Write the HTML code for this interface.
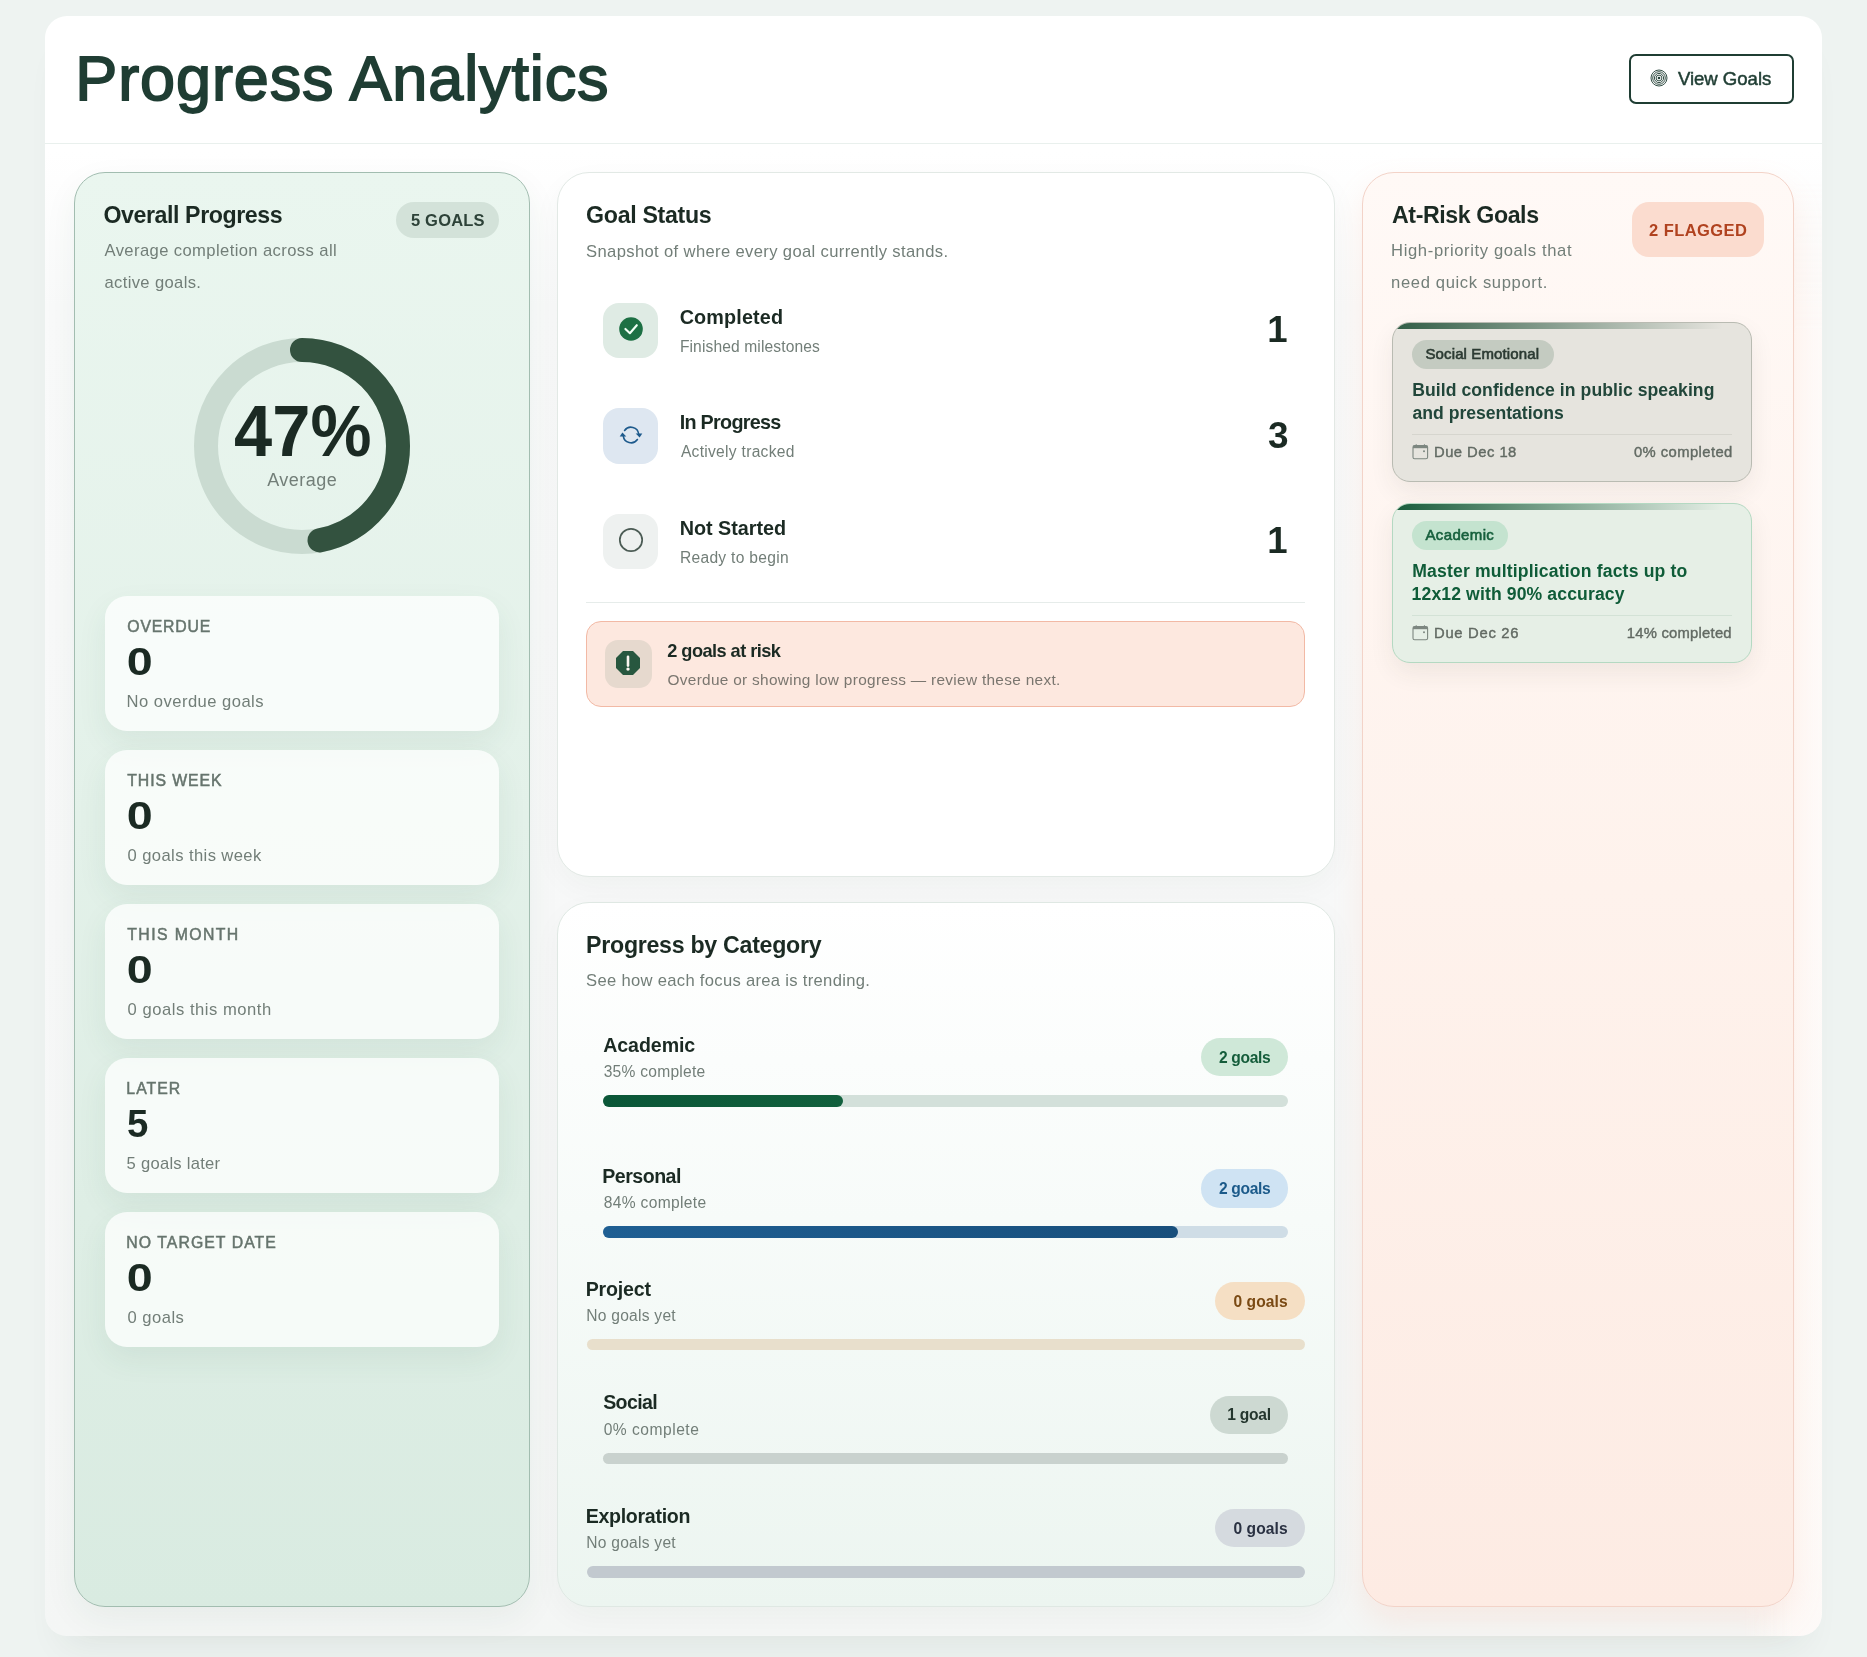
<!DOCTYPE html>
<html lang="en"><head><meta charset="utf-8"><title>Progress Analytics</title>
<style>
html,body{margin:0;padding:0}
body{width:1867px;height:1657px;overflow:hidden;position:relative;background:#eef3f1;font-family:'Liberation Sans',sans-serif;-webkit-font-smoothing:antialiased}
div{box-sizing:border-box}
</style></head><body>
<div id="app" style="position:absolute;left:0;top:0;width:1867px;height:1657px;will-change:transform;">
<div style="position:absolute;left:45px;top:16px;width:1777px;height:1620px;box-sizing:border-box;background:linear-gradient(180deg,#ffffff 0px,#ffffff 135px,#f9fafa 290px,#f7f8f8 900px,#f4f6f5 1620px);border-radius:22px;box-shadow:0 26px 36px -18px rgba(25,60,45,.075);"></div>
<div style="position:absolute;left:1740px;top:176px;width:82px;height:1460px;box-sizing:border-box;background:linear-gradient(90deg,rgba(254,250,248,0) 0px,rgba(254,250,248,.9) 56px);-webkit-mask-image:linear-gradient(180deg,transparent 0px,#000 160px);mask-image:linear-gradient(180deg,transparent 0px,#000 160px);border-bottom-right-radius:22px;"></div>
<div style="position:absolute;left:45px;top:143px;width:1777px;height:1px;box-sizing:border-box;background:#e9f0ed;"></div>
<div style="position:absolute;left:75.30px;top:43px;font-size:63px;line-height:70px;white-space:pre;color:#1f3d33;-webkit-text-stroke:1.76px #1f3d33;letter-spacing:0.888px;">Progress Analytics</div>
<div style="position:absolute;left:1629px;top:54px;width:165px;height:50px;box-sizing:border-box;border:2px solid #1f3d33;border-radius:7px;background:#fff;"></div>
<svg style="position:absolute;left:1649px;top:67.5px" width="20" height="20" viewBox="-10 -10 20 20" fill="none" stroke="#1f3d33" stroke-width="0.9"><circle r="8.0"/><circle r="6.3"/><circle r="4.6"/><circle r="2.9"/><circle r="1.3" fill="#1f3d33" stroke="none"/></svg>
<div style="position:absolute;left:1677.90px;top:68px;font-size:18.6px;line-height:21px;white-space:pre;color:#1f3d33;-webkit-text-stroke:0.5px #1f3d33;letter-spacing:-0.033px;">View Goals</div>
<div style="position:absolute;left:74px;top:172px;width:456px;height:1435px;box-sizing:border-box;background:linear-gradient(180deg,#eaf6ef 0%,#e3f1e9 45%,#d9ebe1 100%);border:1px solid #a2bdb0;border-radius:31px;box-shadow:0 12px 34px rgba(30,80,55,.06);"></div>
<div style="position:absolute;left:103.50px;top:202px;font-size:23.2px;line-height:26px;white-space:pre;color:#1b2a23;font-weight:700;letter-spacing:-0.433px;">Overall Progress</div>
<div style="position:absolute;left:396px;top:202px;width:103px;height:36px;box-sizing:border-box;background:#d3e2d9;border-radius:18px;"></div>
<div style="position:absolute;left:410.90px;top:211px;font-size:16.5px;line-height:18px;white-space:pre;color:#2d4238;font-weight:700;letter-spacing:0.217px;">5 GOALS</div>
<div style="position:absolute;left:104.50px;top:241px;font-size:16.6px;line-height:19px;white-space:pre;color:#727e78;letter-spacing:0.396px;">Average completion across all</div>
<div style="position:absolute;left:104.50px;top:273px;font-size:16.6px;line-height:19px;white-space:pre;color:#727e78;letter-spacing:0.350px;">active goals.</div>
<svg style="position:absolute;left:182.3px;top:326px" width="240" height="240" viewBox="-120 -120 240 240" fill="none">
<circle r="96" stroke="#cadbd1" stroke-width="24"/>
<circle r="96" stroke="#33523f" stroke-width="24" stroke-linecap="round" stroke-dasharray="283.5 603.2" transform="rotate(-90)"/>
</svg>
<div style="position:absolute;left:234.00px;top:390px;font-size:73px;line-height:81px;white-space:pre;color:#1b2a23;font-weight:700;transform:scaleX(0.940);transform-origin:1.0px 50%;">47%</div>
<div style="position:absolute;left:267.20px;top:470px;font-size:18px;line-height:20px;white-space:pre;color:#727e78;letter-spacing:0.483px;">Average</div>
<div style="position:absolute;left:105px;top:596px;width:394px;height:135px;box-sizing:border-box;background:rgba(255,255,255,.74);border-radius:22px;box-shadow:0 12px 30px rgba(40,100,70,.075);"></div>
<div style="position:absolute;left:127.30px;top:618px;font-size:15.8px;line-height:17px;white-space:pre;color:#66746d;-webkit-text-stroke:0.5px #66746d;letter-spacing:0.817px;">OVERDUE</div>
<div style="position:absolute;left:127.20px;top:640px;font-size:38.2px;line-height:43px;white-space:pre;color:#1b2a23;font-weight:700;transform:scaleX(1.221);transform-origin:1.0px 50%;">0</div>
<div style="position:absolute;left:126.60px;top:692px;font-size:16.6px;line-height:19px;white-space:pre;color:#727e78;letter-spacing:0.460px;">No overdue goals</div>
<div style="position:absolute;left:105px;top:750px;width:394px;height:135px;box-sizing:border-box;background:rgba(255,255,255,.74);border-radius:22px;box-shadow:0 12px 30px rgba(40,100,70,.075);"></div>
<div style="position:absolute;left:127.30px;top:772px;font-size:15.8px;line-height:17px;white-space:pre;color:#66746d;-webkit-text-stroke:0.5px #66746d;letter-spacing:0.912px;">THIS WEEK</div>
<div style="position:absolute;left:127.20px;top:794px;font-size:38.2px;line-height:43px;white-space:pre;color:#1b2a23;font-weight:700;transform:scaleX(1.221);transform-origin:1.0px 50%;">0</div>
<div style="position:absolute;left:127.60px;top:846px;font-size:16.6px;line-height:19px;white-space:pre;color:#727e78;letter-spacing:0.400px;">0 goals this week</div>
<div style="position:absolute;left:105px;top:904px;width:394px;height:135px;box-sizing:border-box;background:rgba(255,255,255,.74);border-radius:22px;box-shadow:0 12px 30px rgba(40,100,70,.075);"></div>
<div style="position:absolute;left:127.30px;top:926px;font-size:15.8px;line-height:17px;white-space:pre;color:#66746d;-webkit-text-stroke:0.5px #66746d;letter-spacing:1.400px;">THIS MONTH</div>
<div style="position:absolute;left:127.20px;top:948px;font-size:38.2px;line-height:43px;white-space:pre;color:#1b2a23;font-weight:700;transform:scaleX(1.221);transform-origin:1.0px 50%;">0</div>
<div style="position:absolute;left:127.60px;top:1000px;font-size:16.6px;line-height:19px;white-space:pre;color:#727e78;letter-spacing:0.524px;">0 goals this month</div>
<div style="position:absolute;left:105px;top:1058px;width:394px;height:135px;box-sizing:border-box;background:rgba(255,255,255,.74);border-radius:22px;box-shadow:0 12px 30px rgba(40,100,70,.075);"></div>
<div style="position:absolute;left:126.30px;top:1080px;font-size:15.8px;line-height:17px;white-space:pre;color:#66746d;-webkit-text-stroke:0.5px #66746d;letter-spacing:1.050px;">LATER</div>
<div style="position:absolute;left:127.20px;top:1102px;font-size:38.2px;line-height:43px;white-space:pre;color:#1b2a23;font-weight:700;transform:scaleX(1.005);transform-origin:1.0px 50%;">5</div>
<div style="position:absolute;left:126.60px;top:1154px;font-size:16.6px;line-height:19px;white-space:pre;color:#727e78;letter-spacing:0.258px;">5 goals later</div>
<div style="position:absolute;left:105px;top:1212px;width:394px;height:135px;box-sizing:border-box;background:rgba(255,255,255,.74);border-radius:22px;box-shadow:0 12px 30px rgba(40,100,70,.075);"></div>
<div style="position:absolute;left:126.30px;top:1234px;font-size:15.8px;line-height:17px;white-space:pre;color:#66746d;-webkit-text-stroke:0.5px #66746d;letter-spacing:1.062px;">NO TARGET DATE</div>
<div style="position:absolute;left:127.20px;top:1256px;font-size:38.2px;line-height:43px;white-space:pre;color:#1b2a23;font-weight:700;transform:scaleX(1.221);transform-origin:1.0px 50%;">0</div>
<div style="position:absolute;left:127.60px;top:1308px;font-size:16.6px;line-height:19px;white-space:pre;color:#727e78;letter-spacing:0.467px;">0 goals</div>
<div style="position:absolute;left:557px;top:172px;width:778px;height:705px;box-sizing:border-box;background:#ffffff;border:1px solid #e2e9e5;border-radius:32px;box-shadow:0 10px 30px rgba(30,50,40,.035);"></div>
<div style="position:absolute;left:586.10px;top:202px;font-size:23.2px;line-height:26px;white-space:pre;color:#1b2a23;font-weight:700;letter-spacing:-0.330px;">Goal Status</div>
<div style="position:absolute;left:586.10px;top:242px;font-size:16.6px;line-height:19px;white-space:pre;color:#727e78;letter-spacing:0.356px;">Snapshot of where every goal currently stands.</div>
<div style="position:absolute;left:603px;top:303px;width:55px;height:55px;box-sizing:border-box;background:#dfebe4;border-radius:16px;"></div>
<div style="position:absolute;left:679.70px;top:306px;font-size:19.8px;line-height:22px;white-space:pre;color:#1b2a23;font-weight:700;letter-spacing:0.137px;">Completed</div>
<div style="position:absolute;left:679.90px;top:338px;font-size:15.6px;line-height:17px;white-space:pre;color:#727e78;letter-spacing:0.122px;">Finished milestones</div>
<div style="position:absolute;left:1267.20px;top:309px;font-size:36.6px;line-height:41px;white-space:pre;color:#1b2a23;font-weight:700;">1</div>
<div style="position:absolute;left:603px;top:408px;width:55px;height:56px;box-sizing:border-box;background:#dee7f1;border-radius:16px;"></div>
<div style="position:absolute;left:679.70px;top:411px;font-size:19.8px;line-height:22px;white-space:pre;color:#1b2a23;font-weight:700;letter-spacing:-0.720px;">In Progress</div>
<div style="position:absolute;left:680.90px;top:443px;font-size:15.6px;line-height:17px;white-space:pre;color:#727e78;letter-spacing:0.287px;">Actively tracked</div>
<div style="position:absolute;left:1268.00px;top:415px;font-size:36.6px;line-height:41px;white-space:pre;color:#1b2a23;font-weight:700;transform:scaleX(1.011);transform-origin:1.0px 50%;">3</div>
<div style="position:absolute;left:603px;top:514px;width:55px;height:55px;box-sizing:border-box;background:#eef1f0;border-radius:16px;"></div>
<div style="position:absolute;left:679.70px;top:517px;font-size:19.8px;line-height:22px;white-space:pre;color:#1b2a23;font-weight:700;letter-spacing:-0.010px;">Not Started</div>
<div style="position:absolute;left:679.90px;top:549px;font-size:15.6px;line-height:17px;white-space:pre;color:#727e78;letter-spacing:0.300px;">Ready to begin</div>
<div style="position:absolute;left:1267.20px;top:520px;font-size:36.6px;line-height:41px;white-space:pre;color:#1b2a23;font-weight:700;">1</div>
<svg style="position:absolute;left:618.85px;top:316.95px" width="24" height="24" viewBox="-12 -12 24 24"><circle r="11.8" fill="#1d7044"/><path d="M-5.6,-0.1 L-1.1,4.2 L5.8,-3.8" fill="none" stroke="#f2fff6" stroke-width="2.1" stroke-linecap="round" stroke-linejoin="round"/></svg>
<svg style="position:absolute;left:616.6px;top:420.6px" width="28" height="28" viewBox="-14 -14 28 28" fill="none" stroke="#1d5a8c" stroke-width="1.6" stroke-linecap="round">
<g><path d="M-6.4,-4.5 A7.8,7.8 0 0 1 7.7,-0.8"/><path d="M4.7,-1.4 L11.3,-1.4 L8.6,2.4 Z" fill="#1d5a8c" stroke="none"/></g>
<g transform="rotate(180)"><path d="M-6.4,-4.5 A7.8,7.8 0 0 1 7.7,-0.8"/><path d="M4.7,-1.4 L11.3,-1.4 L8.6,2.4 Z" fill="#1d5a8c" stroke="none"/></g></svg>
<svg style="position:absolute;left:616.85px;top:525.8px" width="28" height="28" viewBox="-14 -14 28 28"><circle r="11.2" fill="none" stroke="#4b5b54" stroke-width="1.7"/></svg>
<div style="position:absolute;left:586px;top:602px;width:719px;height:1px;box-sizing:border-box;background:#e6ecea;"></div>
<div style="position:absolute;left:586px;top:621px;width:719px;height:86px;box-sizing:border-box;background:#fde8df;border:1px solid #f2b9a5;border-radius:15px;"></div>
<div style="position:absolute;left:605px;top:640px;width:47px;height:48px;box-sizing:border-box;background:#e6d9ce;border-radius:13px;"></div>
<svg style="position:absolute;left:614.2px;top:648.9px" width="28" height="28" viewBox="-14 -14 28 28"><path d="M-5,-12 L5,-12 L12,-5 L12,5 L5,12 L-5,12 L-12,5 L-12,-5 Z" fill="#27573f"/><path d="M0,-6.2 L0,2.6" stroke="#fbf6f0" stroke-width="2.6" stroke-linecap="round"/><circle cx="0" cy="6.1" r="1.7" fill="#fbf6f0"/></svg>
<div style="position:absolute;left:667.30px;top:641px;font-size:18.2px;line-height:20px;white-space:pre;color:#1b2a23;font-weight:700;letter-spacing:-0.550px;">2 goals at risk</div>
<div style="position:absolute;left:667.50px;top:671px;font-size:15.4px;line-height:17px;white-space:pre;color:#7a766f;letter-spacing:0.304px;">Overdue or showing low progress — review these next.</div>
<div style="position:absolute;left:557px;top:902px;width:778px;height:705px;box-sizing:border-box;background:linear-gradient(180deg,#ffffff 0%,#f7fbf9 45%,#ecf5f0 100%);border:1px solid #dfe8e3;border-radius:32px;box-shadow:0 10px 30px rgba(30,50,40,.035);"></div>
<div style="position:absolute;left:586.10px;top:932px;font-size:23.2px;line-height:26px;white-space:pre;color:#1b2a23;font-weight:700;letter-spacing:-0.289px;">Progress by Category</div>
<div style="position:absolute;left:586.10px;top:971px;font-size:16.6px;line-height:19px;white-space:pre;color:#727e78;letter-spacing:0.306px;">See how each focus area is trending.</div>
<div style="position:absolute;left:603.20px;top:1034px;font-size:19.6px;line-height:22px;white-space:pre;color:#1b2a23;font-weight:700;letter-spacing:-0.071px;">Academic</div>
<div style="position:absolute;left:603.70px;top:1063px;font-size:15.6px;line-height:17px;white-space:pre;color:#727e78;letter-spacing:0.245px;">35% complete</div>
<div style="position:absolute;left:1201px;top:1038px;width:87px;height:38px;box-sizing:border-box;background:#cfe8d8;border-radius:19.1px;"></div>
<div style="position:absolute;left:1218.90px;top:1049px;font-size:15.6px;line-height:17px;white-space:pre;color:#145c3a;font-weight:700;letter-spacing:-0.317px;">2 goals</div>
<div style="position:absolute;left:603px;top:1095px;width:685px;height:12px;box-sizing:border-box;background:#d3e0da;border-radius:6px;"></div>
<div style="position:absolute;left:603px;top:1095px;width:240px;height:12px;box-sizing:border-box;background:linear-gradient(90deg,#0b5738,#12603d);border-radius:6px;"></div>
<div style="position:absolute;left:602.20px;top:1165px;font-size:19.6px;line-height:22px;white-space:pre;color:#1b2a23;font-weight:700;letter-spacing:-0.500px;">Personal</div>
<div style="position:absolute;left:603.70px;top:1194px;font-size:15.6px;line-height:17px;white-space:pre;color:#727e78;letter-spacing:0.336px;">84% complete</div>
<div style="position:absolute;left:1201px;top:1169px;width:87px;height:39px;box-sizing:border-box;background:#cfe3f3;border-radius:19.1px;"></div>
<div style="position:absolute;left:1218.90px;top:1180px;font-size:15.6px;line-height:17px;white-space:pre;color:#1b5a8a;font-weight:700;letter-spacing:-0.317px;">2 goals</div>
<div style="position:absolute;left:603px;top:1226px;width:685px;height:12px;box-sizing:border-box;background:#cfdde6;border-radius:6px;"></div>
<div style="position:absolute;left:603px;top:1226px;width:575px;height:12px;box-sizing:border-box;background:linear-gradient(90deg,#1f5f93,#184f7c);border-radius:6px;"></div>
<div style="position:absolute;left:585.70px;top:1278px;font-size:19.6px;line-height:22px;white-space:pre;color:#1b2a23;font-weight:700;letter-spacing:-0.200px;">Project</div>
<div style="position:absolute;left:586.20px;top:1307px;font-size:15.6px;line-height:17px;white-space:pre;color:#727e78;letter-spacing:0.255px;">No goals yet</div>
<div style="position:absolute;left:1215px;top:1282px;width:90px;height:38px;box-sizing:border-box;background:#f5dfc4;border-radius:19.1px;"></div>
<div style="position:absolute;left:1233.40px;top:1293px;font-size:15.6px;line-height:17px;white-space:pre;color:#7a4a14;font-weight:700;letter-spacing:0.100px;">0 goals</div>
<div style="position:absolute;left:587px;top:1339px;width:718px;height:11px;box-sizing:border-box;background:#e8dfcc;border-radius:6px;"></div>
<div style="position:absolute;left:603.20px;top:1391px;font-size:19.6px;line-height:22px;white-space:pre;color:#1b2a23;font-weight:700;letter-spacing:-0.640px;">Social</div>
<div style="position:absolute;left:603.70px;top:1421px;font-size:15.6px;line-height:17px;white-space:pre;color:#727e78;letter-spacing:0.500px;">0% complete</div>
<div style="position:absolute;left:1210px;top:1396px;width:78px;height:38px;box-sizing:border-box;background:#cdd9d2;border-radius:19.1px;"></div>
<div style="position:absolute;left:1227.20px;top:1406px;font-size:15.6px;line-height:17px;white-space:pre;color:#24362e;font-weight:700;letter-spacing:-0.240px;">1 goal</div>
<div style="position:absolute;left:603px;top:1453px;width:685px;height:11px;box-sizing:border-box;background:#c9d2ce;border-radius:6px;"></div>
<div style="position:absolute;left:585.70px;top:1505px;font-size:19.6px;line-height:22px;white-space:pre;color:#1b2a23;font-weight:700;letter-spacing:-0.300px;">Exploration</div>
<div style="position:absolute;left:586.20px;top:1534px;font-size:15.6px;line-height:17px;white-space:pre;color:#727e78;letter-spacing:0.255px;">No goals yet</div>
<div style="position:absolute;left:1215px;top:1509px;width:90px;height:38px;box-sizing:border-box;background:#d5dadf;border-radius:19.1px;"></div>
<div style="position:absolute;left:1233.40px;top:1520px;font-size:15.6px;line-height:17px;white-space:pre;color:#2a3142;font-weight:700;letter-spacing:0.100px;">0 goals</div>
<div style="position:absolute;left:587px;top:1566px;width:718px;height:12px;box-sizing:border-box;background:#c2c9cf;border-radius:6px;"></div>
<div style="position:absolute;left:1362px;top:172px;width:432px;height:1435px;box-sizing:border-box;background:linear-gradient(180deg,#fff9f6 0%,#fef2ec 50%,#fdebe3 100%);border:1px solid #f3d3c8;border-radius:32px;box-shadow:0 14px 30px rgba(255,170,135,.16);"></div>
<div style="position:absolute;left:1392.00px;top:202px;font-size:23.2px;line-height:26px;white-space:pre;color:#1b2a23;font-weight:700;letter-spacing:-0.417px;">At-Risk Goals</div>
<div style="position:absolute;left:1391.10px;top:241px;font-size:16.6px;line-height:19px;white-space:pre;color:#727e78;letter-spacing:0.626px;">High-priority goals that</div>
<div style="position:absolute;left:1391.10px;top:273px;font-size:16.6px;line-height:19px;white-space:pre;color:#727e78;letter-spacing:0.633px;">need quick support.</div>
<div style="position:absolute;left:1632px;top:202px;width:132px;height:55px;box-sizing:border-box;background:#fbdccf;border-radius:17px;"></div>
<div style="position:absolute;left:1649.00px;top:221px;font-size:16.5px;line-height:18px;white-space:pre;color:#b0421f;font-weight:700;letter-spacing:0.438px;">2 FLAGGED</div>
<div style="position:absolute;left:1392px;top:322px;width:359.5px;height:160.2px;background:#e6e4de;border:1px solid #b9bbb2;border-radius:18px;overflow:hidden;box-shadow:0 10px 24px rgba(60,50,40,.075);"><div style="position:absolute;left:-1px;top:-1px;width:360px;height:6.5px;background:linear-gradient(90deg,#2f5c45 0%,#2f5c4500 92%);"></div></div>
<div style="position:absolute;left:1412px;top:340px;width:142px;height:29px;box-sizing:border-box;background:#c4cbc1;border-radius:15px;"></div>
<div style="position:absolute;left:1425.50px;top:345px;font-size:15px;line-height:17px;white-space:pre;color:#2b3a32;-webkit-text-stroke:0.6px #2b3a32;letter-spacing:0.120px;">Social Emotional</div>
<div style="position:absolute;left:1412.20px;top:380px;font-size:17.6px;line-height:20px;white-space:pre;color:#21463a;font-weight:700;letter-spacing:0.062px;">Build confidence in public speaking</div>
<div style="position:absolute;left:1412.60px;top:403px;font-size:17.6px;line-height:20px;white-space:pre;color:#21463a;font-weight:700;letter-spacing:-0.025px;">and presentations</div>
<div style="position:absolute;left:1412px;top:434px;width:320px;height:1px;box-sizing:border-box;background:#d6d5ce;"></div>
<svg style="position:absolute;left:1411.6px;top:443.9px" width="17" height="16" viewBox="0 0 17 16" fill="none" stroke="#7d8780" stroke-width="1.1"><rect x="1" y="1.6" width="14.6" height="13.2" rx="1.6"/><path d="M1,3 H15.6" stroke-width="2.4"/><path d="M4.2,0.2 V2 M12.4,0.2 V2" stroke-width="1"/><circle cx="12" cy="7.2" r="1" fill="#7d8780" stroke="none"/></svg>
<div style="position:absolute;left:1434.00px;top:444px;font-size:14.8px;line-height:16px;white-space:pre;color:#626a63;-webkit-text-stroke:0.4px #626a63;letter-spacing:0.467px;">Due Dec 18</div>
<div style="position:absolute;left:1633.90px;top:444px;font-size:14.8px;line-height:16px;white-space:pre;color:#626a63;-webkit-text-stroke:0.4px #626a63;letter-spacing:0.427px;">0% completed</div>
<div style="position:absolute;left:1392px;top:503px;width:359.5px;height:160.2px;background:#e6efe6;border:1px solid #b4d9c2;border-radius:18px;overflow:hidden;box-shadow:0 10px 24px rgba(60,50,40,.075);"><div style="position:absolute;left:-1px;top:-1px;width:360px;height:6.5px;background:linear-gradient(90deg,#175a3a 0%,#175a3a00 92%);"></div></div>
<div style="position:absolute;left:1412px;top:521px;width:96px;height:29px;box-sizing:border-box;background:#c4e3cf;border-radius:15px;"></div>
<div style="position:absolute;left:1425.50px;top:526px;font-size:15px;line-height:17px;white-space:pre;color:#17603d;-webkit-text-stroke:0.6px #17603d;letter-spacing:0.357px;">Academic</div>
<div style="position:absolute;left:1412.20px;top:561px;font-size:17.6px;line-height:20px;white-space:pre;color:#0f5c38;font-weight:700;letter-spacing:0.166px;">Master multiplication facts up to</div>
<div style="position:absolute;left:1411.60px;top:584px;font-size:17.6px;line-height:20px;white-space:pre;color:#0f5c38;font-weight:700;letter-spacing:0.118px;">12x12 with 90% accuracy</div>
<div style="position:absolute;left:1412px;top:615px;width:320px;height:1px;box-sizing:border-box;background:#d3e2d6;"></div>
<svg style="position:absolute;left:1411.6px;top:624.9px" width="17" height="16" viewBox="0 0 17 16" fill="none" stroke="#7d8780" stroke-width="1.1"><rect x="1" y="1.6" width="14.6" height="13.2" rx="1.6"/><path d="M1,3 H15.6" stroke-width="2.4"/><path d="M4.2,0.2 V2 M12.4,0.2 V2" stroke-width="1"/><circle cx="12" cy="7.2" r="1" fill="#7d8780" stroke="none"/></svg>
<div style="position:absolute;left:1434.00px;top:625px;font-size:14.8px;line-height:16px;white-space:pre;color:#626a63;-webkit-text-stroke:0.4px #626a63;letter-spacing:0.711px;">Due Dec 26</div>
<div style="position:absolute;left:1626.80px;top:625px;font-size:14.8px;line-height:16px;white-space:pre;color:#626a63;-webkit-text-stroke:0.4px #626a63;letter-spacing:0.233px;">14% completed</div>
</div>
</body></html>
